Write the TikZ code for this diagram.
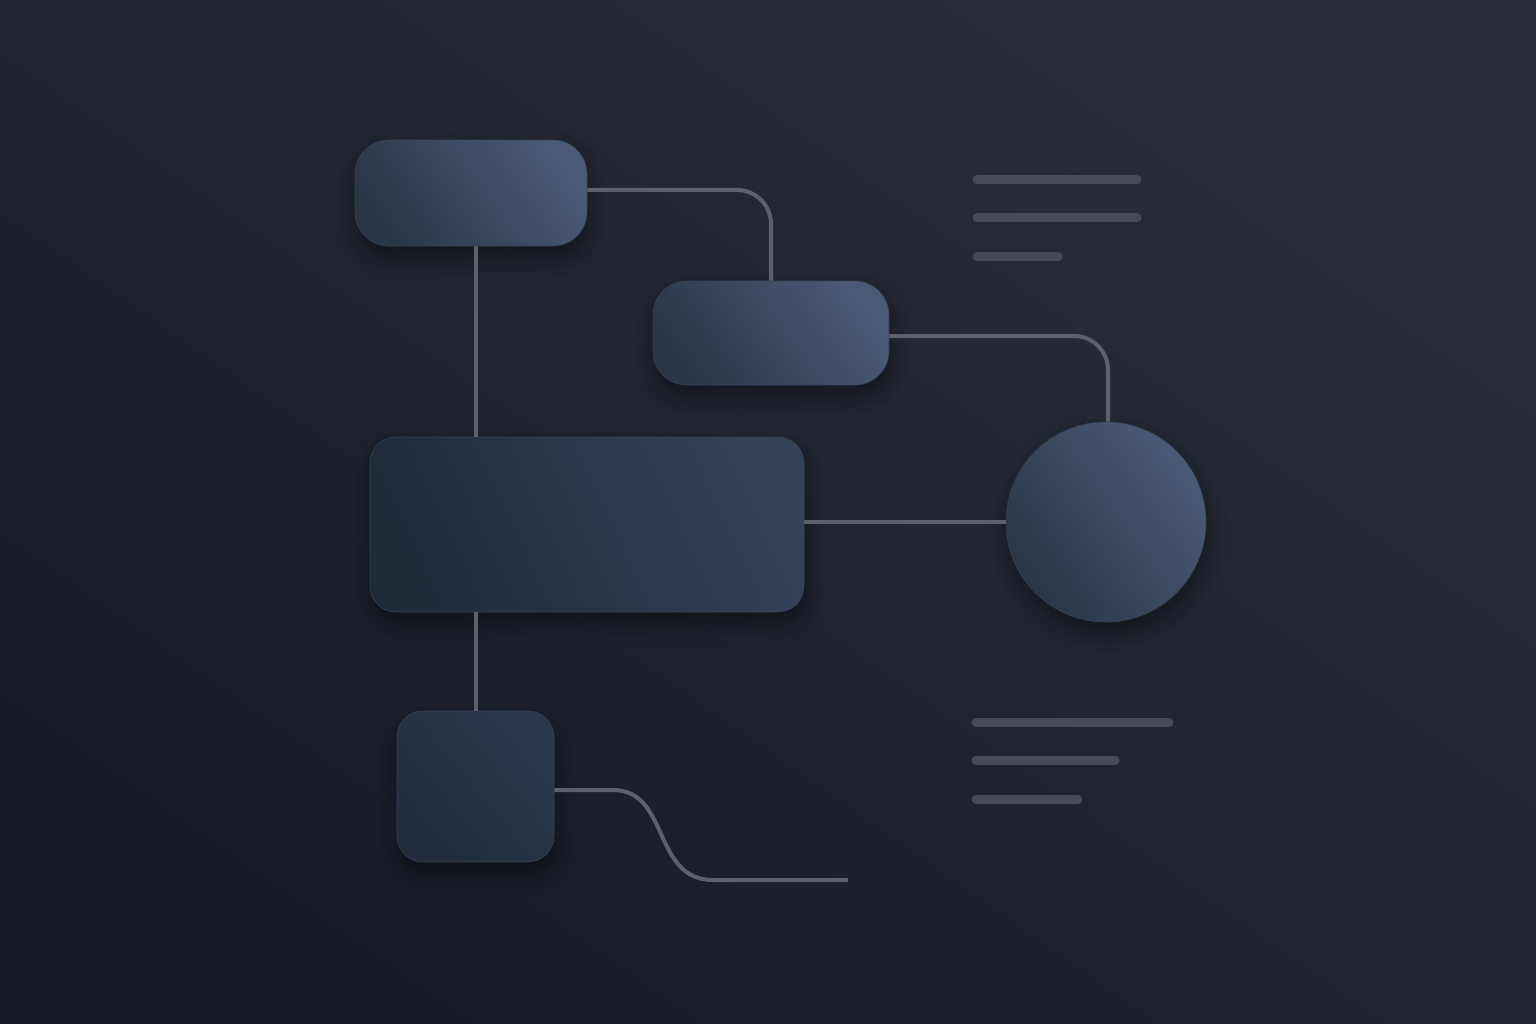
\documentclass[tikz,border=0pt]{standalone}
\usetikzlibrary{shadows.blur}
\definecolor{bgTop}{HTML}{2A2E3A}
\definecolor{bgBot}{HTML}{181B27}
\definecolor{aLight}{HTML}{4A5B78}
\definecolor{aDark}{HTML}{2B3548}
\definecolor{cLight}{HTML}{34425A}
\definecolor{cDark}{HTML}{212A3B}
\definecolor{eLight}{HTML}{2B374D}
\definecolor{eDark}{HTML}{222C3E}
\definecolor{edge}{HTML}{364258}
\definecolor{wire}{HTML}{5D616B}
\definecolor{bar}{HTML}{474B55}
\tikzset{
  card/.style={rounded corners=#1, draw=edge, line width=0.6pt,
    blur shadow={shadow xshift=2pt, shadow yshift=-12pt, shadow blur radius=20pt, shadow opacity=45, shadow blur steps=14}},
  card/.default=30pt,
  lit/.style={top color=aLight, bottom color=aDark, shading angle=-55},
  deep/.style={top color=cLight, bottom color=cDark, shading angle=-65},
  low/.style={top color=eLight, bottom color=eDark, shading angle=-50},
  wirestyle/.style={draw=wire, line width=4pt, rounded corners=34pt},
  barstyle/.style={draw=bar, line width=9pt, line cap=round}
}
\begin{document}
\begin{tikzpicture}[x=1pt,y=-1pt]
\shade[top color=bgTop, bottom color=bgBot, shading angle=-35] (0,0) rectangle (1536,1024);
\useasboundingbox (0,0) rectangle (1536,1024);

\node[card=34pt, lit, minimum width=232pt, minimum height=106pt] (A) at (471,193) {};
\node[card=34pt, lit, minimum width=236pt, minimum height=104pt] (B) at (771,333) {};
\node[card=26pt, deep, minimum width=434pt, minimum height=175pt] (C) at (587,524.5) {};
\node[circle, draw=edge, line width=0.6pt, lit, minimum size=200pt, inner sep=0pt,
  blur shadow={shadow xshift=2pt, shadow yshift=-12pt, shadow blur radius=20pt, shadow opacity=45, shadow blur steps=14}] (D) at (1106,522) {};
\node[card=26pt, low, minimum width=157pt, minimum height=151pt] (E) at (475.5,786.5) {};

\coordinate (Aout) at ([yshift=3pt]A.east);
\coordinate (Bout) at ([yshift=-3pt]B.east);
\coordinate (Eout) at ([yshift=-3.5pt]E.east);
\coordinate (Bend) at (713,880);
\coordinate (Tail) at (848,880);

\draw[wirestyle] (Aout) -| (B.north);
\draw[wirestyle] (Bout) -| ([xshift=2pt]D.north);
\draw[wirestyle] (C.east |- D.west) -- (D.west);
\draw[wirestyle] (A.south -| E.north) -- (C.north -| E.north);
\draw[wirestyle] (C.south -| E.north) -- (E.north);
\draw[draw=wire, line width=4pt] (Eout) -- (613,790) .. controls (670,790) and (652,880) .. (Bend) -- (Tail);

\coordinate (t1a) at (977,180); \coordinate (t1b) at (1137,180);
\coordinate (t2a) at (977,218); \coordinate (t2b) at (1137,218);
\coordinate (t3a) at (977,257); \coordinate (t3b) at (1058,257);
\coordinate (u1a) at (976,722); \coordinate (u1b) at (1169,722);
\coordinate (u2a) at (976,760); \coordinate (u2b) at (1115,760);
\coordinate (u3a) at (976,799); \coordinate (u3b) at (1078,799);
\draw[barstyle] (t1a) -- (t1b);
\draw[barstyle] (t2a) -- (t2b);
\draw[barstyle] (t3a) -- (t3b);
\draw[barstyle] (u1a) -- (u1b);
\draw[barstyle] (u2a) -- (u2b);
\draw[barstyle] (u3a) -- (u3b);
\end{tikzpicture}
\end{document}
